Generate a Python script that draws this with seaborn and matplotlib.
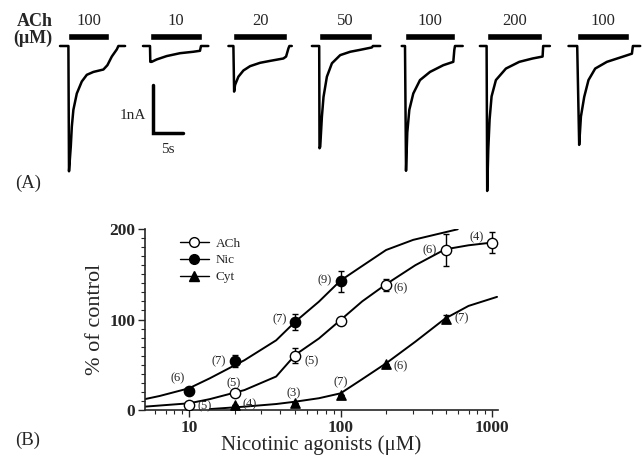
import numpy as np
import pandas as pd
import matplotlib.pyplot as plt
import seaborn as sns
from matplotlib.lines import Line2D

sns.set_style("ticks")
plt.rcParams['font.family'] = ['Liberation Serif', 'DejaVu Serif']

# ---------------- panel A : current traces (t in s from onset, I in nA) ----
trace_labels = ['100', '10', '20', '50', '100', '200', '100']
trace_onsets = [11.4, 25.0, 38.9, 53.2, 67.5, 81.1, 96.2]
bar_durations = [6.8, 8.6, 8.9, 8.8, 8.3, 9.3, 8.7]

tr1_t = [-1.4, 0, 0.1, 0.4, 0.57, 0.83, 1.4, 2.23, 3.07, 4.17, 5.83, 6.5, 7.23, 8.07, 8.33, 9.45]
tr1_i = [0, 0, -2.61, -2.09, -1.68, -1.33, -0.99, -0.74, -0.6, -0.54, -0.49, -0.4, -0.22, -0.07, 0, 0]
tr2_t = [-1.17, 0, 0.05, 0.28, 1.12, 2.78, 5.0, 7.22, 8.33, 8.5, 9.72]
tr2_i = [0, 0, -0.33, -0.33, -0.28, -0.21, -0.15, -0.12, -0.1, 0, 0]
tr3_t = [-0.83, 0, 0.12, 0.28, 0.83, 1.67, 2.78, 4.45, 6.12, 8.33, 8.78, 9.17, 9.33, 9.73]
tr3_i = [0, 0, -0.95, -0.81, -0.64, -0.51, -0.42, -0.35, -0.31, -0.26, -0.22, -0.05, 0, 0]
tr4_t = [-1.22, 0, 0.05, 0.17, 0.45, 0.72, 1.28, 2.12, 3.5, 5.17, 6.83, 8.78, 8.95, 10.17]
tr4_i = [0, 0, -2.13, -2.1, -1.47, -1.06, -0.64, -0.36, -0.19, -0.12, -0.08, -0.03, 0, 0]
tr5_t = [-0.55, 0, 0.17, 0.38, 0.72, 1.38, 2.5, 4.17, 6.38, 8.05, 8.22, 8.33, 9.62]
tr5_i = [0, 0, -2.6, -1.8, -1.33, -0.99, -0.71, -0.54, -0.4, -0.33, -0.08, 0, 0]
tr6_t = [-1.12, 0, 0.1, 0.28, 0.5, 0.83, 1.55, 3.22, 5.45, 7.67, 9.33, 9.43, 10.55]
tr6_i = [0, 0, -3.02, -2.15, -1.53, -1.05, -0.71, -0.47, -0.33, -0.26, -0.22, 0, 0]
tr7_t = [-1.45, 0, 0.33, 0.62, 1.17, 1.88, 3.0, 4.95, 7.17, 9.12, 9.28, 10.5]
tr7_i = [0, 0, -2.06, -1.47, -1.06, -0.71, -0.47, -0.33, -0.24, -0.16, 0, 0]
traces_t = [tr1_t, tr2_t, tr3_t, tr4_t, tr5_t, tr6_t, tr7_t]
traces_i = [tr1_i, tr2_i, tr3_i, tr4_i, tr5_i, tr6_i, tr7_i]

# ---------------- panel B : dose-response --------------------------------
conc_ach = [10, 20, 50, 100, 200, 500, 1000]
ach_mean = [6, 19, 60, 98, 138, 177, 185]
ach_err = [0, 0, 8, 0, 7, 18, 12]
ach_n = ['(5)', '(5)', '(5)', '', '(6)', '(6)', '(4)']

conc_nic = [10, 20, 50, 100]
nic_mean = [21, 54, 97, 142]
nic_err = [0, 7, 9, 12]
nic_n = ['(6)', '(7)', '(7)', '(9)']

conc_cyt = [20, 50, 100, 200, 500]
cyt_mean = [6, 8, 17, 51, 101]
cyt_err = [0, 0, 0, 0, 4]
cyt_n = ['(4)', '(3)', '(7)', '(6)', '(7)']

# fitted curves
nic_fit_x = [5.1, 6.4, 10, 13.7, 23.2, 37.6, 50.3, 72, 100, 132, 200, 302, 594]
nic_fit_y = [12, 15.5, 24, 35, 55, 77, 97.6, 119.7, 143, 156.6, 176.8, 188, 199.7]
ach_fit_x = [5.1, 10, 13.7, 23.2, 37.6, 50.3, 72, 100, 139, 200, 312, 490, 700, 1000]
ach_fit_y = [3.7, 7.4, 12, 22, 37, 61, 79, 99.4, 120, 139, 160, 177.5, 182, 185]
cyt_fit_x = [13.7, 23.2, 37.6, 50.3, 72, 100, 136, 200, 312, 490, 700, 1080]
cyt_fit_y = [1, 3.7, 6.6, 9.2, 13, 18.4, 33, 51.6, 75.5, 101, 115, 125]

# label offsets in points (layout only)
ach_off = [(6, -1), (-1, 7), (7, -4), (0, 0), (5, -2), (-7, 0), (-6, 4)]
nic_off = [(-3, 9), (-6, 0), (-6, 2), (-6, 1)]
cyt_off = [(6, 0), (-1, 7), (0, 9), (5, -2), (6, 0)]

fig = plt.figure(figsize=(6.43, 4.59), dpi=100)

# ---- panel A
axA = fig.add_axes([0, 1 - 200 / 459, 1, 200 / 459])
axA.set_xlim(0, 643 / 6)
axA.set_ylim(-(200 - 46) / 48, 46 / 48)
axA.axis('off')

for k in range(7):
    df = pd.DataFrame({'t': np.array(traces_t[k]) + trace_onsets[k], 'i': traces_i[k]})
    sns.lineplot(data=df, x='t', y='i', ax=axA, color='black', lw=1.8,
                 sort=False, estimator=None)
    axA.barh(0.2, bar_durations[k], left=trace_onsets[k], height=0.15, color='black')
    axA.text(trace_onsets[k] + bar_durations[k] / 2, 0.36, trace_labels[k],
             ha='center', va='bottom', fontsize=12)

axA.text(8.8, 0.5, 'ACh', ha='right', va='center', fontsize=13, fontweight='bold')
axA.text(8.8, 0.15, '(μM)', ha='right', va='center', fontsize=13, fontweight='bold')
# scale bar 1 nA / 5 s
axA.plot([25.5, 25.5, 30.5], [-0.81, -1.81, -1.81], color='black', lw=2.5,
         solid_joinstyle='miter')
axA.text(24.3, -1.44, '1nA', ha='right', va='center', fontsize=11)
axA.text(28.0, -2.02, '5s', ha='center', va='top', fontsize=11)
fig.text(15 / 643, 1 - 183 / 459, '(A)', ha='left', va='center', fontsize=13.5)

# ---- panel B
axB = fig.add_axes([145 / 643, 1 - 410 / 459, 353 / 643, 181 / 459])
axB.set_xscale('log')

for fx, fy in [(nic_fit_x, nic_fit_y), (ach_fit_x, ach_fit_y), (cyt_fit_x, cyt_fit_y)]:
    sns.lineplot(x=fx, y=fy, ax=axB, color='black', lw=1.4, sort=False, estimator=None)

for xs, ys, es in [(conc_ach, ach_mean, ach_err), (conc_nic, nic_mean, nic_err),
                   (conc_cyt, cyt_mean, cyt_err)]:
    axB.errorbar(xs, ys, yerr=es, fmt='none', ecolor='black', elinewidth=1,
                 capsize=2.5, capthick=1)

sns.scatterplot(x=conc_ach, y=ach_mean, ax=axB, marker='o', s=55,
                facecolor='white', edgecolor='black', linewidth=1, zorder=5)
sns.scatterplot(x=conc_nic, y=nic_mean, ax=axB, marker='o', s=55,
                color='black', edgecolor='black', linewidth=1, zorder=5)
sns.scatterplot(x=conc_cyt, y=cyt_mean, ax=axB, marker='^', s=45,
                color='black', edgecolor='black', linewidth=1, zorder=5)

for xs, ys, ns, offs in [(conc_ach, ach_mean, ach_n, ach_off),
                         (conc_nic, nic_mean, nic_n, nic_off),
                         (conc_cyt, cyt_mean, cyt_n, cyt_off)]:
    for x, y, n, (dx, dy) in zip(xs, ys, ns, offs):
        if not n:
            continue
        ha = 'left' if dx > 2 else ('right' if dx < -2 else 'center')
        axB.annotate(n, (x, y), xytext=(dx, dy), textcoords='offset points',
                     ha=ha, va='center', fontsize=9)

axB.set_xlim(5.12, 1096)
axB.set_ylim(0, 200)
axB.set_yticks([0, 100, 200])
axB.set_yticks(np.arange(0, 201, 10), minor=True)
axB.set_xticks([10, 100, 1000])
axB.set_xticklabels(['10', '100', '1000'])
axB.set_yticklabels(['0', '100', '200'])
for lab in axB.get_xticklabels() + axB.get_yticklabels():
    lab.set_fontweight('bold')
axB.tick_params(which='major', length=5, width=1, labelsize=12.5, pad=2)
axB.tick_params(which='minor', length=3, width=0.8)
sns.despine(ax=axB)
axB.spines['left'].set_linewidth(1.2)
axB.spines['bottom'].set_linewidth(1.2)
axB.set_xlabel('Nicotinic agonists (μM)', fontsize=15, labelpad=0)
axB.set_ylabel('% of control', fontsize=16, labelpad=3)

handles = [
    Line2D([], [], color='black', lw=1, marker='o', markerfacecolor='white',
           markeredgecolor='black', markersize=7),
    Line2D([], [], color='black', lw=1, marker='o', markerfacecolor='black',
           markersize=7),
    Line2D([], [], color='black', lw=1, marker='^', markerfacecolor='black',
           markersize=7),
]
axB.legend(handles, ['ACh', 'Nic', 'Cyt'], loc='upper left',
           bbox_to_anchor=(0.08, 0.99), frameon=False, fontsize=9.5,
           handlelength=2.2, handletextpad=0.5, labelspacing=0.35, borderpad=0)

fig.text(15 / 643, 1 - 440 / 459, '(B)', ha='left', va='center', fontsize=13.5)

fig.savefig('out.png', dpi=100)
